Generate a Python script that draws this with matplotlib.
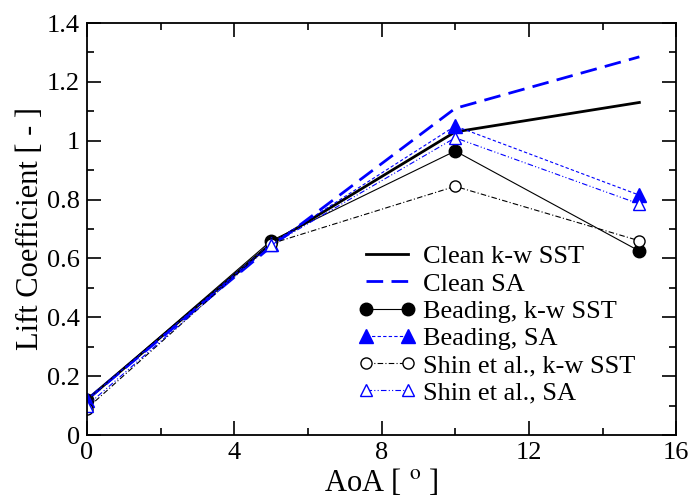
import matplotlib.pyplot as plt
from matplotlib.ticker import MultipleLocator

plt.rcParams['font.family'] = ['Liberation Serif', 'DejaVu Serif']
plt.rcParams['mathtext.fontset'] = 'stix'

aoa = [0, 5, 10, 15]
clean_sst = [0.12, 0.65, 1.03, 1.13]
clean_sa = [0.12, 0.64, 1.11, 1.285]
bead_sst = [0.12, 0.66, 0.965, 0.625]
bead_sa = [0.12, 0.65, 1.05, 0.815]
shin_sst = [0.09, 0.65, 0.845, 0.66]
shin_sa = [0.10, 0.645, 1.01, 0.785]

fig = plt.figure(figsize=(6.9, 5), dpi=100)
ax = fig.add_axes([0.126, 0.13, 0.854, 0.824])

ax.plot(aoa, clean_sst, color='black', lw=2, label='Clean k-w SST')
ax.plot(aoa, clean_sa, color='blue', lw=2, ls=(0, (6, 3)), label='Clean SA')
ax.plot(aoa, bead_sst, color='black', lw=0.8, marker='o', ms=9,
        label='Beading, k-w SST')
ax.plot(aoa, bead_sa, color='blue', lw=0.8, ls=(0, (3, 2)), marker='^', ms=10,
        label='Beading, SA')
ax.plot(aoa, shin_sst, color='black', lw=0.8, ls=(0, (5, 2, 1, 2)), marker='o',
        ms=8, mfc='white', mew=1, label='Shin et al., k-w SST')
ax.plot(aoa, shin_sa, color='blue', lw=0.8, ls=(0, (5, 2, 1, 2, 1, 2)), marker='^',
        ms=8, mfc='white', mew=1, label='Shin et al., SA')

ax.set_xlim(0, 16)
ax.set_ylim(0, 1.4)
ax.xaxis.set_minor_locator(MultipleLocator(2))
ax.yaxis.set_minor_locator(MultipleLocator(0.1))
ax.set_xticks([0, 4, 8, 12, 16], ['0', '4', '8', '12', '16'])
ax.set_yticks([0, 0.2, 0.4, 0.6, 0.8, 1.0, 1.2, 1.4],
              ['0', '0.2', '0.4', '0.6', '0.8', '1', '1.2', '1.4'])
ax.tick_params(which='both', direction='in', top=True, right=True, labelsize=19)
ax.tick_params(which='major', length=10, width=1.2, pad=5)
ax.tick_params(which='minor', length=5, width=1.2)
for s in ax.spines.values():
    s.set_linewidth(1.3)

ax.set_xlabel('AoA [ $^{\\mathrm{o}}$ ]', fontsize=22, labelpad=2)
ax.set_ylabel('Lift Coefficient [ - ]', fontsize=22, labelpad=1)

ax.legend(loc='upper left', bbox_to_anchor=(358 / 690, 1 - 245 / 500),
          bbox_transform=fig.transFigure, frameon=False, borderpad=0,
          borderaxespad=0, fontsize=19, numpoints=2, handlelength=2.2,
          handletextpad=0.25, labelspacing=0.14)

fig.savefig('out.png', dpi=100)
